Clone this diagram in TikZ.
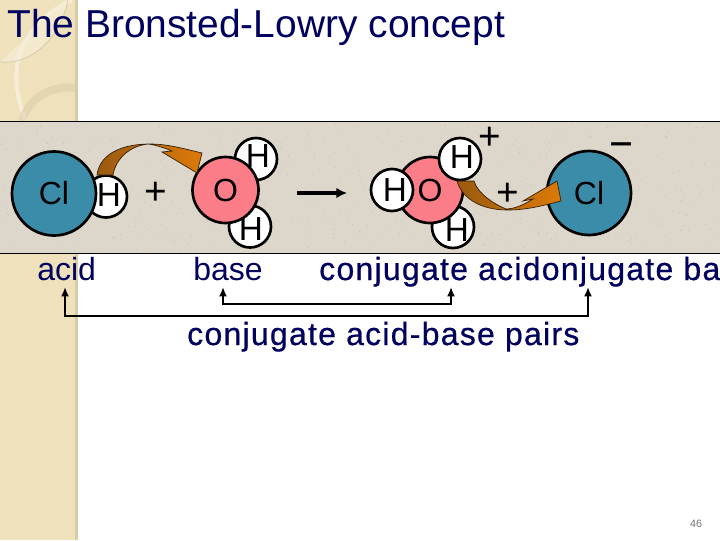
\documentclass[tikz,border=0pt]{standalone}
\usepackage{fontspec}
\setmainfont{Liberation Sans}
\newfontfamily\spacedfont[LetterSpace=3.9,FakeBold=0.6]{Liberation Sans}
\newfontfamily\heavyfont[FakeBold=2]{Liberation Sans}
\usetikzlibrary{arrows.meta}
\definecolor{navytext}{HTML}{00005E}
\definecolor{strip}{HTML}{EFE1BC}
\definecolor{stripedge}{HTML}{D8CBA6}
\definecolor{panel}{HTML}{DDD6CA}
\definecolor{speck}{HTML}{C4BBAC}
\definecolor{clblue}{HTML}{3B8CA8}
\definecolor{opink}{HTML}{FA7D88}
\definecolor{arrowbrown}{HTML}{9A5A10}
\definecolor{arroworange}{HTML}{DC7A08}
\newcommand{\pxfont}[1]{\fontsize{#1}{#1}\selectfont}
\tikzset{
  x=0.75pt,y=-0.75pt,
  atom/.style={circle,draw=black,line width=2pt,inner sep=0pt,minimum size=#1*0.75pt},
  hatom/.style={atom=42,fill=white},
  htext/.style={inner sep=0pt,font=\pxfont{25}},
  cl/.style={atom=84,fill=clblue,font=\pxfont{24}},
  oatom/.style={atom=66,fill=opink,font=\pxfont{24}},
  sign/.style={inner sep=0pt,yshift=-2pt,font=\pxfont{29}},
  label/.style={inner sep=0pt,anchor=base west,text=navytext,font=\pxfont{24}},
  boldlabel/.style={label,font=\pxfont{24}\spacedfont},
  pair/.style={draw=black,line width=2.2pt,{Latex[length=7pt,width=6pt]}-{Latex[length=7pt,width=6pt]}},
  transfer/.style={draw=black!70!arrowbrown,line width=0.5pt,left color=arrowbrown,right color=arroworange}
}
\begin{document}
\begin{tikzpicture}
\useasboundingbox (0,0) rectangle (720,540);
\clip (0,0) rectangle (720,540);
\fill[white] (0,0) rectangle (720,540);
% left strip
\fill[strip] (0,0) rectangle (78,540);
\fill[stripedge] (75,0) rectangle (78,540);
\begin{scope}
\clip (0,0) rectangle (76,121);
\fill[white!25!strip] (0,0) rectangle (68,0) .. controls (60,40) and (30,65) .. (0,62) -- cycle;
\draw[color=white!40!strip,line width=3pt] (72,0) .. controls (30,20) and (0,60) .. (26,121);
\draw[color=stripedge,line width=0.6pt] (0,62) .. controls (30,65) and (60,40) .. (68,0);
\draw[color=stripedge,line width=6pt,opacity=.5] (22,121) .. controls (30,95) and (55,85) .. (76,88);
\end{scope}
% panel
\fill[panel] (0,121) rectangle (720,253);
\pgfmathsetseed{46}
\foreach \i in {1,...,500}{
  \pgfmathsetmacro{\sx}{720*rnd}
  \pgfmathsetmacro{\sy}{122+130*rnd}
  \fill[speck] (\sx,\sy) circle[radius=0.5];
}
\draw[black,line width=0.7pt] (0,121) -- (720,121) (0,253) -- (720,253);
% title
\node[label,font=\pxfont{29.2}] (title) at (7,37) {The Bronsted-Lowry concept};
% reactants
\node[hatom] (h1) at (106,196.5) {};
\node[cl] (cl1) at (54,193.5) {Cl};
\node[htext] (h1t) at (109,195) {H};
\node[sign] (plus1) at (156,191) {+};
\node[hatom] (h2) at (256,159) {};
\node[hatom] (h3) at (250,226.5) {};
\node[oatom] (o1) at (225.5,190) {O};
\node[htext] (h2t) at (258,156) {H};
\node[htext] (h3t) at (251,229) {H};
% transfer arrow 1
\path[transfer] (97,175) .. controls (100,152) and (125,144) .. (150,144)
  .. controls (168,144) and (185,149) .. (202,153) -- (197,173) -- (162,152)
  -- (172,151) .. controls (160,146) and (150,144) .. (148,144)
  .. controls (130,146) and (116,158) .. (113,175) -- cycle;
% reaction arrow
\coordinate (rs) at (297,193);
\coordinate (re) at (347,193);
\draw[line width=2.4pt,-{Latex[length=8pt,width=8pt]}] (rs) -- (re);
% products
\node[hatom] (h6) at (453,227) {};
\node[oatom] (o2) at (430,190) {O};
\node[hatom] (h5) at (460,159) {};
\node[hatom] (h4) at (392,190) {};
\node[htext] (h4t) at (395,190) {H};
\node[htext] (h5t) at (462,157) {H};
\node[htext] (h6t) at (457,230) {H};
\node[sign] (plus2) at (490,136) {+};
\node[cl] (cl2) at (589,193) {Cl};
\node[sign] (plus3) at (508,192) {+};
\node[sign,font=\pxfont{26}\heavyfont] (minus) at (621,145) {–};
% transfer arrow 2
\path[transfer] (457,181) .. controls (462,198) and (480,210) .. (508,210)
  .. controls (528,210) and (545,205) .. (561,201) -- (557,181) -- (523,201)
  -- (533,199) .. controls (525,204) and (515,209) .. (506,209)
  .. controls (494,204) and (478,194) .. (474,181) -- cycle;
% labels
\node[label] (acid) at (37,280) {acid};
\node[label] (base) at (193,280) {base};
\node[boldlabel] (conj) at (319,280) {conjugate acidonjugate ba};
\node[boldlabel] (pairs) at (187,345) {conjugate acid-base pairs};
% pair brackets
\coordinate (pa) at (65,287);
\coordinate (pd) at (588,287);
\coordinate (pb) at (223,287);
\coordinate (pc) at (451,287);
\draw[pair] (pa) -- (pa |- 0,316) -- (pd |- 0,316) -- (pd);
\draw[pair] (pb) -- (pb |- 0,304) -- (pc |- 0,304) -- (pc);
% page number
\node[inner sep=0pt,text=black!55,font=\pxfont{8}] (page) at (696,524) {46};
\end{tikzpicture}
\end{document}
